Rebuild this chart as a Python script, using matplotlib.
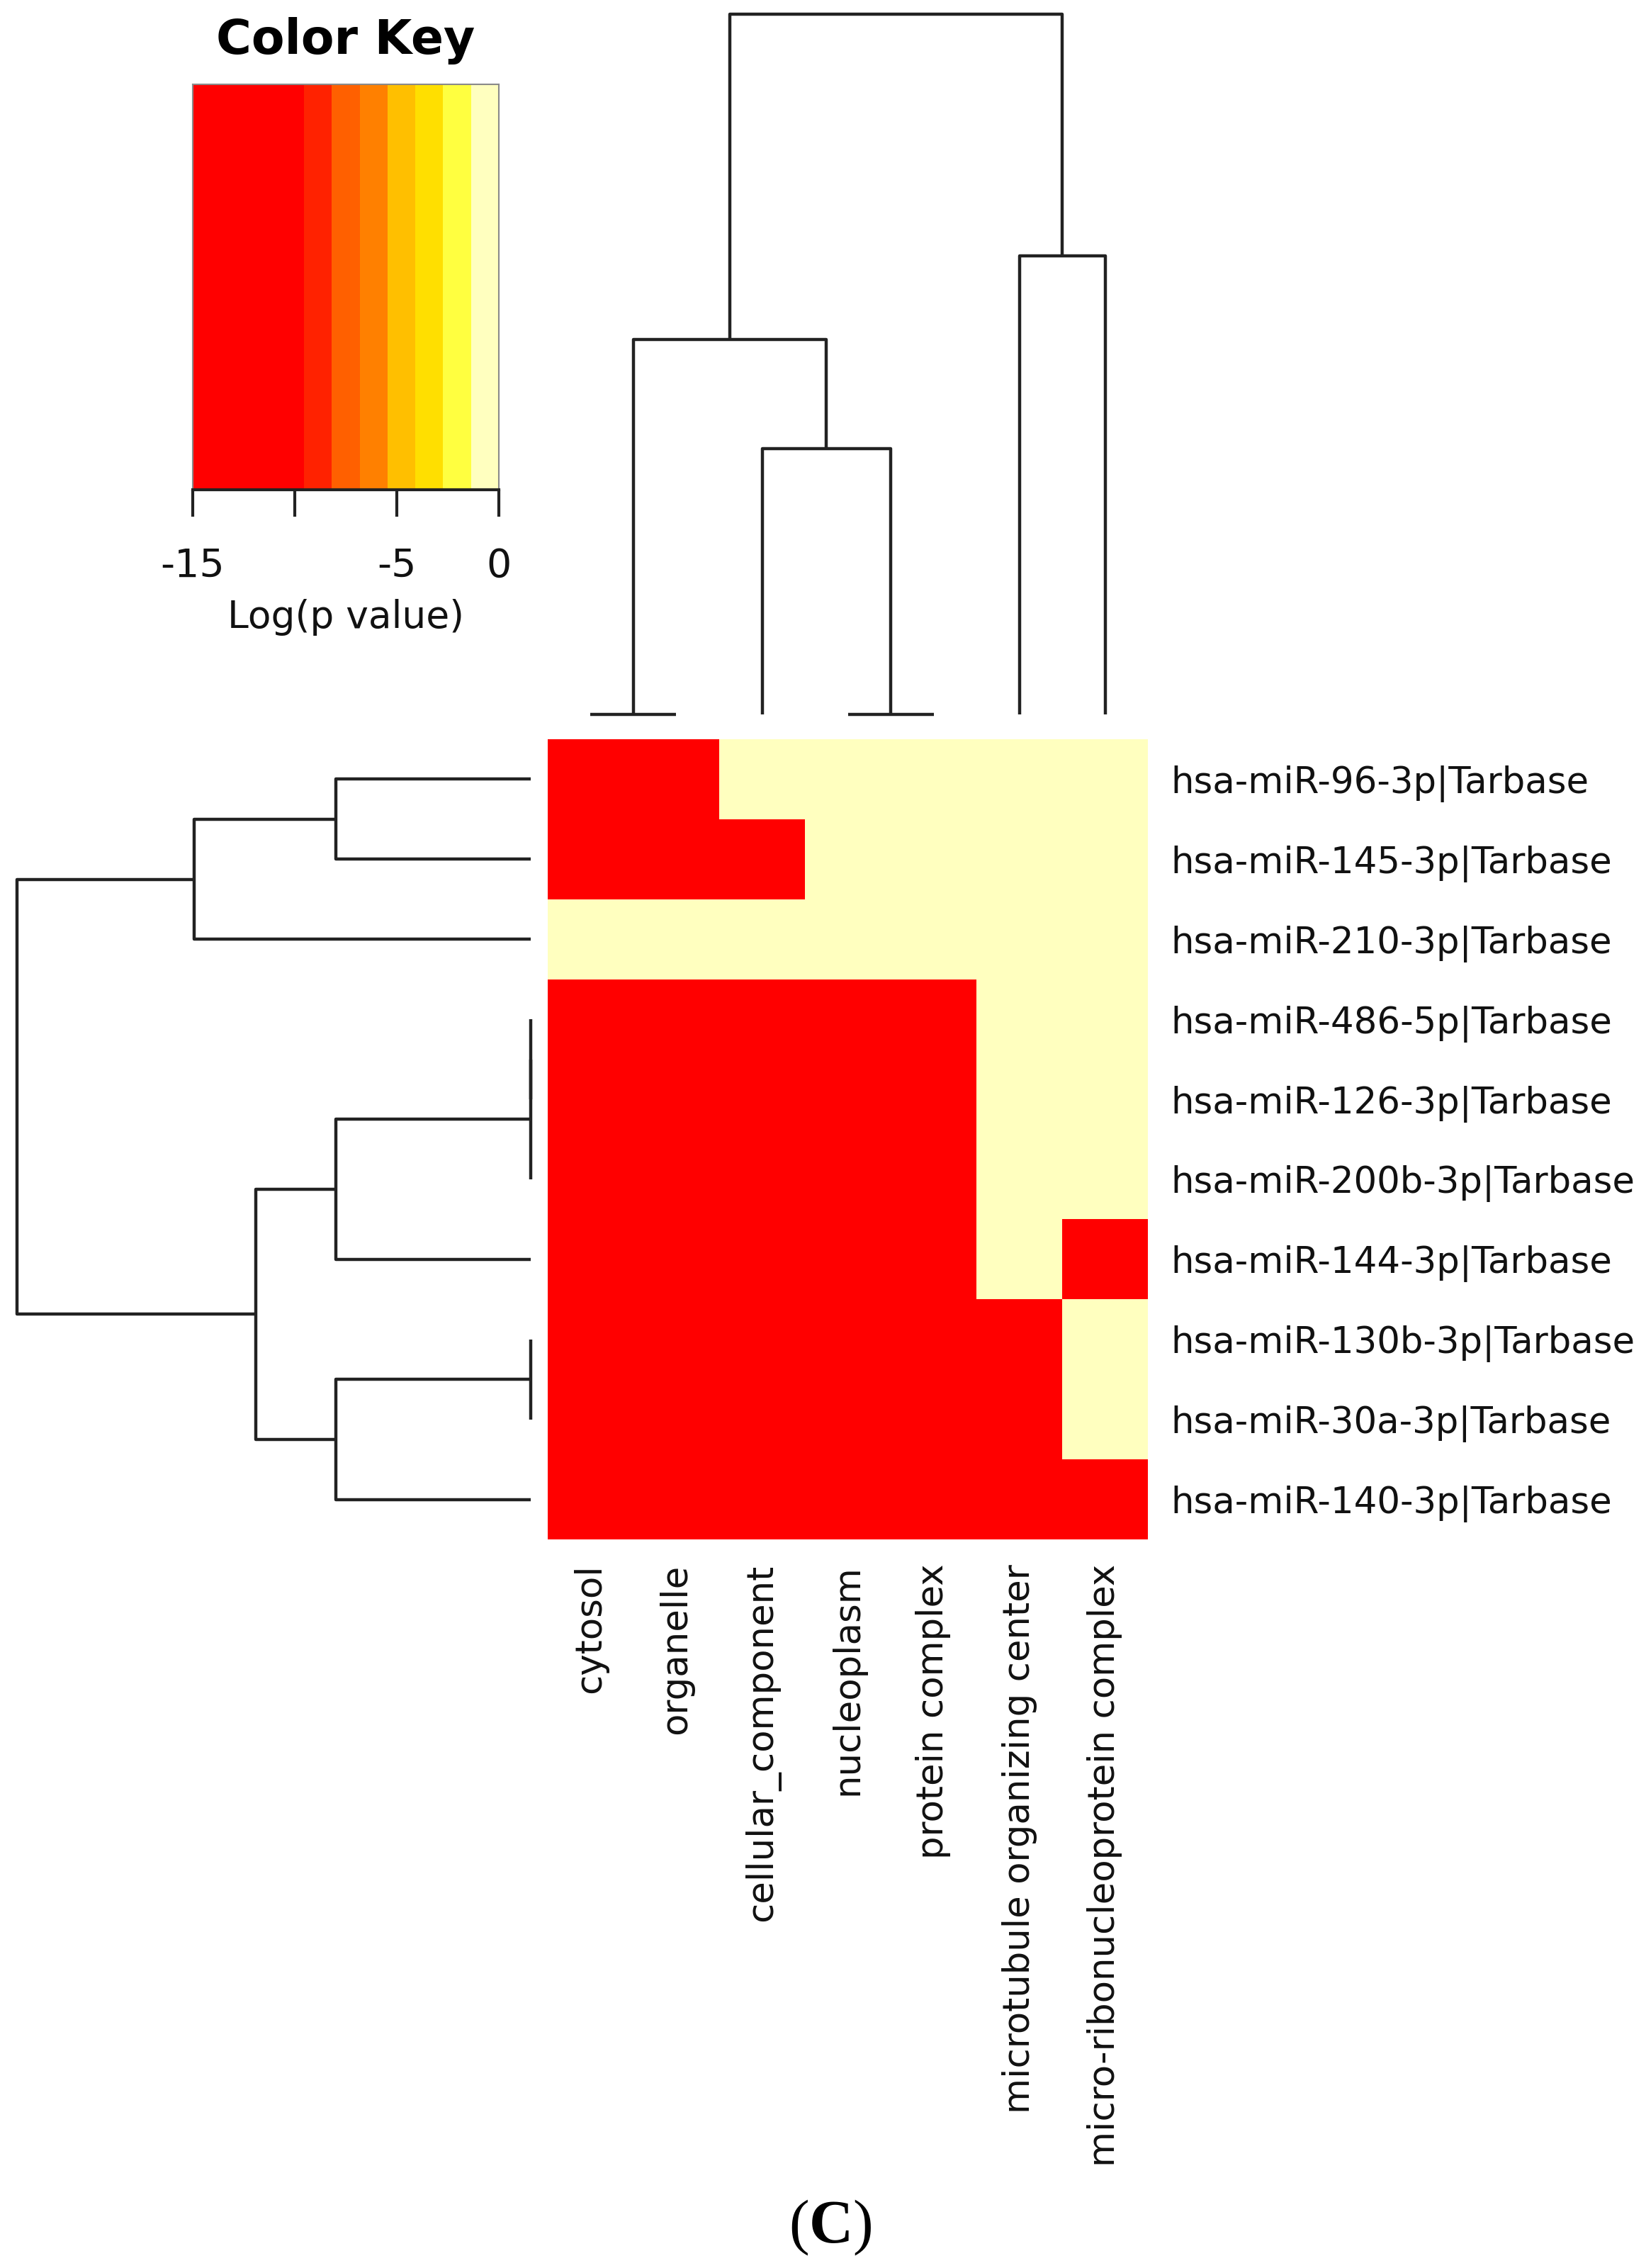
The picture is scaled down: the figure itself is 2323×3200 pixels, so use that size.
import numpy as np
import matplotlib
matplotlib.use("Agg")
import matplotlib.pyplot as plt
from matplotlib.colors import ListedColormap, BoundaryNorm

# ---------------- data ----------------
row_labels = ["hsa-miR-96-3p|Tarbase", "hsa-miR-145-3p|Tarbase", "hsa-miR-210-3p|Tarbase",
              "hsa-miR-486-5p|Tarbase", "hsa-miR-126-3p|Tarbase", "hsa-miR-200b-3p|Tarbase",
              "hsa-miR-144-3p|Tarbase", "hsa-miR-130b-3p|Tarbase", "hsa-miR-30a-3p|Tarbase",
              "hsa-miR-140-3p|Tarbase"]
col_labels = ["cytosol", "organelle", "cellular_component", "nucleoplasm", "protein complex",
              "microtubule organizing center", "micro-ribonucleoprotein complex"]

# log(p value) per miRNA (rows) and GO term (columns)
logp = [
    [-15, -15,   0,   0,   0,   0,   0],
    [-15, -15, -15,   0,   0,   0,   0],
    [  0,   0,   0,   0,   0,   0,   0],
    [-15, -15, -15, -15, -15,   0,   0],
    [-15, -15, -15, -15, -15,   0,   0],
    [-15, -15, -15, -15, -15,   0,   0],
    [-15, -15, -15, -15, -15,   0, -15],
    [-15, -15, -15, -15, -15, -15,   0],
    [-15, -15, -15, -15, -15, -15,   0],
    [-15, -15, -15, -15, -15, -15, -15],
]

# colour key breaks and colours
key_breaks = [-15.0, -13.636, -12.273, -10.909, -9.545, -8.182, -6.818, -5.455, -4.091, -2.727, -1.364, 0.0]
key_colors = ["#FF0000", "#FF0000", "#FF0000", "#FF0000", "#FF2200", "#FF6000",
              "#FF8000", "#FFBF00", "#FFDF00", "#FFFF40", "#FFFFBF"]
key_ticks = [-15, -10, -5, 0]
key_ticklabels = ["-15", "", "-5", "0"]

# dendrograms: (child_a, child_b, height); children < n are leaves, else merge n+k
col_merges = [(0, 1, 0.0), (3, 4, 0.0), (2, 8, 3.75), (7, 9, 5.29), (5, 6, 6.47), (10, 11, 9.88)]
row_merges = [(0, 1, 2.75), (10, 2, 4.75), (3, 4, 0.0), (12, 5, 0.0), (13, 6, 2.75),
              (7, 8, 0.0), (15, 9, 2.75), (14, 16, 3.88), (11, 17, 7.25)]

# ---------------- figure ----------------
W, H = 2323, 3200
fig = plt.figure(figsize=(W / 100, H / 100), dpi=100)
plt.rcParams["font.family"] = ["DejaVu Sans"]
TXT = "#111111"
LINE = "#222222"
FS = 37


def px_axes(x0, y0, x1, y1):
    return fig.add_axes([x0 / W, 1 - y1 / H, (x1 - x0) / W, (y1 - y0) / H])


hm_x0, hm_x1, hm_y0, hm_y1 = 773, 1620, 1043, 2172

cmap = ListedColormap(key_colors)
norm = BoundaryNorm(key_breaks, cmap.N)

# heatmap
ax = px_axes(hm_x0, hm_y0, hm_x1, hm_y1)
data = np.array(logp, dtype=float)
nr, nc = data.shape
ax.pcolormesh(np.arange(nc + 1), np.arange(nr + 1), data, cmap=cmap, norm=norm)
ax.set_xlim(0, nc)
ax.set_ylim(nr, 0)
for s in ax.spines.values():
    s.set_visible(False)
ax.set_yticks(np.arange(nr) + 0.5)
ax.set_yticklabels(row_labels, fontsize=FS, color=TXT)
ax.yaxis.tick_right()
ax.tick_params(axis="y", length=0, pad=23)
ax.set_xticks(np.arange(nc) + 0.5)
ax.set_xticklabels(col_labels, rotation=90, fontsize=FS, color=TXT)
ax.tick_params(axis="x", length=0, pad=25)


def dendro(merges, n):
    pos = [i + 0.5 for i in range(n)]
    hts = [0.0] * n
    segs = []
    for a, b, h in merges:
        segs.append(((pos[a], hts[a]), (pos[a], h), (pos[b], h), (pos[b], hts[b])))
        pos.append((pos[a] + pos[b]) / 2)
        hts.append(h)
    return segs


# column dendrogram
axc = px_axes(hm_x0, 20, hm_x1, 1008)
for seg in dendro(col_merges, nc):
    xs = [p[0] for p in seg]
    ys = [p[1] for p in seg]
    axc.plot(xs, ys, color=LINE, lw=3.2, clip_on=False, solid_capstyle="butt")
axc.set_xlim(0, nc)
axc.set_ylim(0, max(m[2] for m in col_merges))
axc.axis("off")

# row dendrogram
axr = px_axes(24, hm_y0, 749, hm_y1)
for seg in dendro(row_merges, nr):
    ys = [p[0] for p in seg]
    xs = [p[1] for p in seg]
    axr.plot(xs, ys, color=LINE, lw=3.2, clip_on=False, solid_capstyle="butt")
axr.set_ylim(nr, 0)
axr.set_xlim(max(m[2] for m in row_merges), 0)
axr.axis("off")

# colour key
axk = px_axes(272, 119, 704, 691)
mids = [(key_breaks[i] + key_breaks[i + 1]) / 2 for i in range(len(key_breaks) - 1)]
axk.pcolormesh(key_breaks, [0, 1], np.array([mids]), cmap=cmap, norm=norm)
axk.set_xlim(key_breaks[0], key_breaks[-1])
axk.set_ylim(0, 1)
axk.set_yticks([])
axk.set_xticks(key_ticks)
axk.set_xticklabels(key_ticklabels, fontsize=40, color=TXT)
axk.tick_params(axis="x", length=27, width=3, pad=31, color=LINE)
for k in ["top", "right", "left"]:
    axk.spines[k].set_color("#8a8a8a")
    axk.spines[k].set_linewidth(1.5)
axk.spines["bottom"].set_color(LINE)
axk.spines["bottom"].set_linewidth(3)
axk.set_xlabel("Log(p value)", fontsize=38.5, color=TXT, labelpad=14)
axk.set_title("Color Key", fontsize=49, fontweight="bold", color="black", pad=31)

# panel label
plt.rcParams["mathtext.fontset"] = "custom"
plt.rcParams["mathtext.rm"] = "Liberation Serif"
plt.rcParams["mathtext.bf"] = "Liberation Serif:bold"
fig.text(1172 / W, 1 - 3143 / H, r"$\mathrm{(}\mathbf{C}\mathrm{)}$", fontsize=62,
         ha="center", va="center", color="black")

fig.savefig("out.png", dpi=100, facecolor="white")
